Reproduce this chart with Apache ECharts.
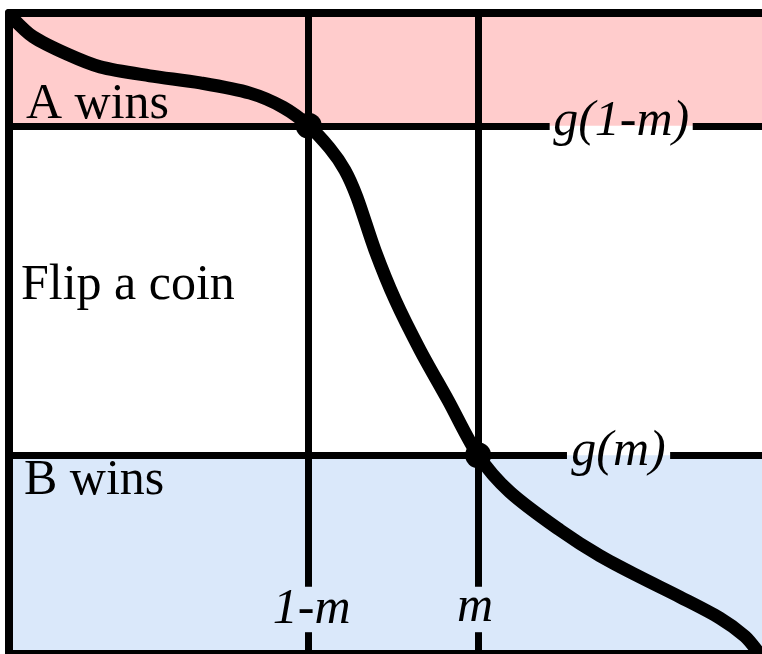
<!DOCTYPE html>
<html><head><meta charset="utf-8">
<script src="https://cdn.jsdelivr.net/npm/echarts@6/dist/echarts.min.js"></script>
<style>html,body{margin:0;padding:0;background:#fff}#c{width:762px;height:654px}</style>
</head><body><div id="c"></div>
<script>
// ---- data ----
const curveX = [0.005, 0.032, 0.077, 0.121, 0.187, 0.254, 0.320, 0.364, 0.398, 0.426, 0.446, 0.462, 0.486, 0.513, 0.546, 0.583, 0.623, 0.665, 0.732, 0.785, 0.838, 0.891, 0.944, 0.977, 0.993];
const curveY = [0.992, 0.963, 0.936, 0.916, 0.902, 0.891, 0.875, 0.853, 0.824, 0.789, 0.755, 0.713, 0.630, 0.552, 0.474, 0.396, 0.310, 0.253, 0.193, 0.153, 0.120, 0.089, 0.056, 0.028, 0.006];
const oneMinusM = 0.398, m = 0.623;
const gOneMinusM = 0.824, gM = 0.310;
const regionLabels = ['A wins', 'Flip a coin', 'B wins'];
const levelLabels = ['g(1-m)', 'g(m)'];
const tickLabels = ['1-m', 'm'];

// ---- layout (label gaps in the guide lines) ----
const hGap = [[0.718, 0.908], [0.741, 0.878]];
const vGap = [0.034, 0.105];

const serif = 'Liberation Serif';
const black = '#000';
const chart = echarts.init(document.getElementById('c'));

function seg(a, b) { return [{ coord: a }, { coord: b }]; }

const curveData = curveX.map((x, i) => [x, curveY[i]]);
const textBase = { show: true, color: black, opacity: 1, fontFamily: serif, fontSize: 50 };
const frameAxis = {
  type: 'value', min: 0, max: 1, z: 10,
  axisLine: { show: true, onZero: false, lineStyle: { color: black, width: 8 } },
  axisTick: { show: false }, axisLabel: { show: false }, splitLine: { show: false }
};

chart.setOption({
  animation: false,
  grid: { left: 9, top: 13, right: 0, bottom: 0, show: false },
  xAxis: [
    { ...frameAxis, position: 'bottom' },
    { ...frameAxis, position: 'top' }
  ],
  yAxis: { ...frameAxis, position: 'left' },
  series: [
    {
      type: 'line', data: [], silent: true, z: 1,
      markArea: {
        silent: true,
        data: [
          [{ coord: [0, gOneMinusM], itemStyle: { color: '#ffcccc', opacity: 1 } }, { coord: [1, 1] }],
          [{ coord: [0, 0], itemStyle: { color: '#dae8fa', opacity: 1 } }, { coord: [1, gM] }]
        ]
      }
    },
    {
      type: 'line', data: [], silent: true, z: 3,
      markLine: {
        silent: true, symbol: 'none', animation: false,
        label: { show: false },
        lineStyle: { color: black, width: 7, type: 'solid', opacity: 1 },
        data: [
          seg([0, gOneMinusM], [hGap[0][0], gOneMinusM]), seg([hGap[0][1], gOneMinusM], [1, gOneMinusM]),
          seg([0, gM], [hGap[1][0], gM]), seg([hGap[1][1], gM], [1, gM]),
          seg([oneMinusM, 1], [oneMinusM, vGap[1]]), seg([oneMinusM, vGap[0]], [oneMinusM, 0]),
          seg([m, 1], [m, vGap[1]]), seg([m, vGap[0]], [m, 0])
        ]
      }
    },
    {
      type: 'line', data: curveData, smooth: 0.3, showSymbol: false, silent: true, z: 5,
      lineStyle: { color: black, width: 13, cap: 'round', join: 'round', opacity: 1 }
    },
    {
      type: 'scatter', data: [[oneMinusM, gOneMinusM], [m, gM]], symbolSize: 26, silent: true, z: 6,
      itemStyle: { color: black, opacity: 1 }
    },
    {
      type: 'scatter', symbolSize: 0, silent: true, z: 7,
      itemStyle: { opacity: 1 },
      data: [
        { value: [0, gOneMinusM], name: regionLabels[0], label: { ...textBase, position: 'inside', align: 'left', verticalAlign: 'bottom', offset: [17, 4] } },
        { value: [0, (gOneMinusM + gM) / 2], name: regionLabels[1], label: { ...textBase, position: 'inside', align: 'left', verticalAlign: 'middle', offset: [12, -5] } },
        { value: [0, gM], name: regionLabels[2], label: { ...textBase, position: 'inside', align: 'left', verticalAlign: 'top', offset: [15, 1] } },
        { value: [(hGap[0][0] + hGap[0][1]) / 2, gOneMinusM], name: levelLabels[0], label: { ...textBase, fontStyle: 'italic', position: 'inside', align: 'center', verticalAlign: 'middle', offset: [0, -4] } },
        { value: [(hGap[1][0] + hGap[1][1]) / 2, gM], name: levelLabels[1], label: { ...textBase, fontStyle: 'italic', position: 'inside', align: 'center', verticalAlign: 'middle', offset: [0, -3] } },
        { value: [oneMinusM, 0], name: tickLabels[0], label: { ...textBase, fontStyle: 'italic', position: 'inside', align: 'center', verticalAlign: 'bottom', offset: [3, -19] } },
        { value: [m, 0], name: tickLabels[1], label: { ...textBase, fontStyle: 'italic', position: 'inside', align: 'center', verticalAlign: 'bottom', offset: [-3, -21] } }
      ],
      label: { show: true, formatter: p => p.name }
    }
  ]
});
</script></body></html>
